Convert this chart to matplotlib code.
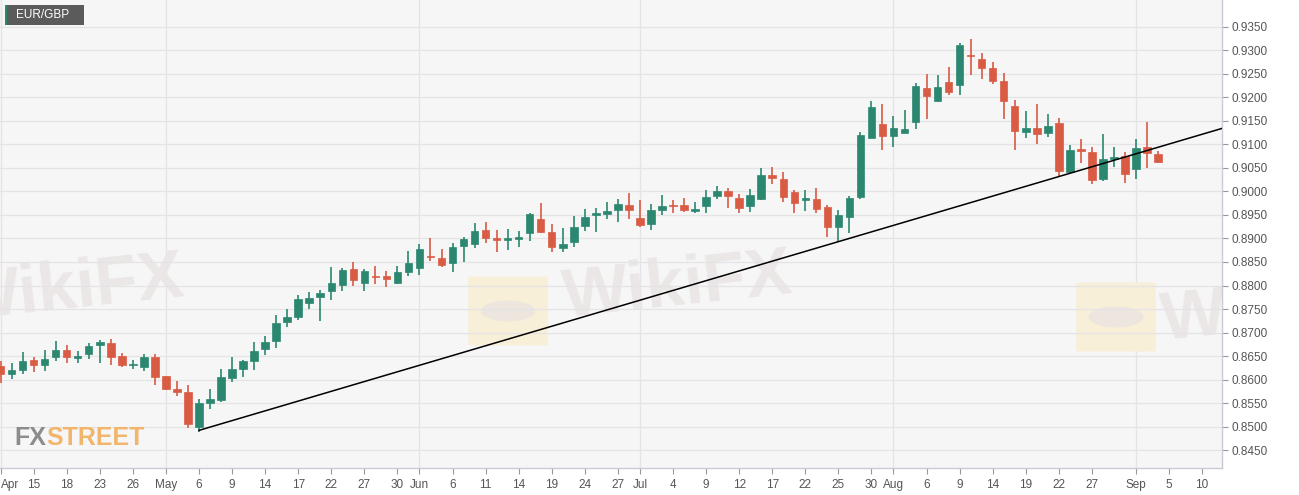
"""EUR/GBP daily candlestick chart with rising trendline."""
import matplotlib
matplotlib.use("Agg")
import matplotlib.pyplot as plt
from matplotlib.patches import Rectangle, FancyBboxPatch, Circle

plt.rcParams["font.family"] = ["Liberation Sans", "DejaVu Sans"]

# trading days from 2019-04-10 to 2019-09-04
dates = [
    "04-10", "04-11", "04-12", "04-15", "04-16", "04-17", "04-18", "04-19", "04-22", "04-23",
    "04-24", "04-25", "04-26", "04-29", "04-30", "05-01", "05-02", "05-03", "05-06", "05-07",
    "05-08", "05-09", "05-10", "05-13", "05-14", "05-15", "05-16", "05-17", "05-20", "05-21",
    "05-22", "05-23", "05-24", "05-27", "05-28", "05-29", "05-30", "05-31", "06-03", "06-04",
    "06-05", "06-06", "06-07", "06-10", "06-11", "06-12", "06-13", "06-14", "06-17", "06-18",
    "06-19", "06-20", "06-21", "06-24", "06-25", "06-26", "06-27", "06-28", "07-01", "07-02",
    "07-03", "07-04", "07-05", "07-08", "07-09", "07-10", "07-11", "07-12", "07-15", "07-16",
    "07-17", "07-18", "07-19", "07-22", "07-23", "07-24", "07-25", "07-26", "07-29", "07-30",
    "07-31", "08-01", "08-02", "08-05", "08-06", "08-07", "08-08", "08-09", "08-12", "08-13",
    "08-14", "08-15", "08-16", "08-19", "08-20", "08-21", "08-22", "08-23", "08-26", "08-27",
    "08-28", "08-29", "08-30", "09-02", "09-03", "09-04",
]

opens = [
    .8629, .8612, .8621, .8642, .8630, .8647, .8663, .8646, .8655, .8673,
    .8678, .8651, .8631, .8626, .8647, .8607, .8580, .8574, .8499, .8551,
    .8557, .8604, .8622, .8640, .8664, .8682, .8723, .8732, .8762, .8776,
    .8788, .8801, .8835, .8806, .8820, .8820, .8806, .8828, .8838, .8863,
    .8859, .8848, .8884, .8889, .8917, .8901, .8896, .8898, .8911, .8942,
    .8913, .8879, .8893, .8926, .8949, .8952, .8960, .8971, .8944, .8931,
    .8961, .8971, .8971, .8959, .8968, .8991, .9000, .8986, .8969, .8984,
    .9036, .9026, .8999, .8981, .8984, .8966, .8924, .8946, .8989, .9114,
    .9144, .9118, .9125, .9148, .9219, .9193, .9233, .9227, .9291, .9282,
    .9263, .9234, .9182, .9127, .9135, .9125, .9145, .9042, .9090, .9084,
    .9026, .9070, .9076, .9047, .9094, .9080,
]
highs = [
    .8639, .8635, .8658, .8649, .8662, .8681, .8673, .8660, .8678, .8685,
    .8686, .8656, .8642, .8654, .8655, .8607, .8598, .8588, .8558, .8581,
    .8623, .8649, .8642, .8680, .8693, .8737, .8749, .8779, .8786, .8791,
    .8840, .8838, .8851, .8836, .8842, .8831, .8842, .8874, .8888, .8901,
    .8878, .8891, .8904, .8932, .8934, .8917, .8921, .8916, .8954, .8975,
    .8930, .8923, .8948, .8962, .8964, .8977, .8984, .8996, .8982, .8974,
    .8993, .8982, .8986, .8977, .9004, .9012, .9007, .8995, .9006, .9050,
    .9052, .9041, .9002, .9004, .9007, .8971, .8961, .8991, .9127, .9192,
    .9185, .9161, .9173, .9231, .9250, .9248, .9265, .9316, .9325, .9294,
    .9275, .9252, .9194, .9171, .9185, .9165, .9157, .9099, .9111, .9095,
    .9123, .9095, .9084, .9111, .9148, .9087,
]
lows = [
    .8592, .8601, .8612, .8617, .8619, .8640, .8635, .8635, .8643, .8635,
    .8631, .8626, .8622, .8619, .8588, .8578, .8566, .8497, .8489, .8537,
    .8552, .8595, .8605, .8621, .8652, .8668, .8712, .8726, .8749, .8724,
    .8770, .8789, .8800, .8789, .8804, .8796, .8804, .8820, .8823, .8852,
    .8839, .8828, .8849, .8879, .8891, .8871, .8876, .8881, .8895, .8911,
    .8872, .8872, .8881, .8916, .8914, .8941, .8936, .8941, .8924, .8918,
    .8949, .8955, .8956, .8954, .8954, .8984, .8964, .8955, .8957, .8982,
    .9016, .8977, .8955, .8959, .8954, .8904, .8893, .8912, .8983, .9113,
    .9089, .9095, .9125, .9132, .9155, .9190, .9205, .9206, .9247, .9240,
    .9229, .9153, .9089, .9113, .9101, .9115, .9030, .9037, .9061, .9015,
    .9023, .9051, .9018, .9026, .9049, .9060,
]
closes = [
    .8612, .8621, .8639, .8630, .8643, .8663, .8649, .8651, .8672, .8680,
    .8648, .8631, .8634, .8647, .8605, .8580, .8573, .8506, .8550, .8559,
    .8605, .8623, .8639, .8661, .8680, .8721, .8732, .8772, .8774, .8783,
    .8806, .8833, .8811, .8831, .8818, .8814, .8828, .8847, .8877, .8861,
    .8844, .8882, .8898, .8916, .8901, .8896, .8900, .8904, .8951, .8914,
    .8882, .8888, .8924, .8946, .8955, .8959, .8973, .8960, .8929, .8961,
    .8969, .8970, .8961, .8962, .8989, .9000, .8991, .8964, .8993, .9036,
    .9029, .8989, .8975, .8986, .8963, .8924, .8950, .8986, .9121, .9180,
    .9118, .9135, .9132, .9224, .9203, .9222, .9212, .9311, .9287, .9263,
    .9234, .9193, .9129, .9135, .9122, .9140, .9043, .9089, .9087, .9024,
    .9068, .9074, .9037, .9092, .9081, .9063,
]

# x-axis ticks (trading-day index) and labels
tick_idx = [0, 3, 6, 9, 12, 15, 18, 21, 24, 27, 30, 33, 36, 38, 41, 44, 47, 50, 53, 56,
            58, 61, 64, 67, 70, 73, 76, 79, 81, 84, 87, 90, 93, 96, 99, 103, 106, 109]
tick_lbl = ["Apr", "15", "18", "23", "26", "May", "6", "9", "14", "17", "22", "27", "30",
            "Jun", "6", "11", "14", "19", "24", "27", "Jul", "4", "9", "12", "17", "22",
            "25", "30", "Aug", "6", "9", "14", "19", "22", "27", "Sep", "5", "10"]
month_idx = [0, 15, 38, 58, 81, 103]

y_ticks = [0.8450, 0.8500, 0.8550, 0.8600, 0.8650, 0.8700, 0.8750, 0.8800, 0.8850, 0.8900,
           0.8950, 0.9000, 0.9050, 0.9100, 0.9150, 0.9200, 0.9250, 0.9300, 0.9350]

# trendline from the May 6 low
trend_x = [18, 110.8]
trend_y = [0.8492, 0.9134]

GREEN = "#2b8770"
RED = "#d95b43"
W, H = 1299, 495
AX_RIGHT, AX_BOTTOM = 1222, 468

fig = plt.figure(figsize=(W / 100, H / 100), dpi=100, facecolor="white")
ax = fig.add_axes([0, 1 - AX_BOTTOM / H, AX_RIGHT / W, AX_BOTTOM / H])
ax.set_facecolor("#f6f6f7")


def px(x, y):
    """pixel (from top-left) -> figure fraction"""
    return x / W, 1 - y / H


# watermarks, drawn in pixel space behind the candles
for (lx, ly) in [(472, 278), (1080, 284)]:
    logo = FancyBboxPatch(px(lx, ly + 66), 72 / W, 66 / H, boxstyle="round,pad=0.003",
                          transform=fig.transFigure, facecolor="#f8efd8",
                          edgecolor="none", zorder=0.5)
    ax.add_patch(logo)
    eagle = Circle(px(lx + 36, ly + 33), 0.021, transform=fig.transFigure,
                   facecolor="#ece6df", edgecolor="none", zorder=0.6)
    ax.add_patch(eagle)
for (tx, ty) in [(70, 290), (678, 287), (1276, 310)]:
    ax.text(*px(tx, ty), "WikiFX", transform=fig.transFigure, fontsize=50,
            fontweight="bold", color="#ebe7e7", ha="center", va="center",
            rotation=6, rotation_mode="anchor", zorder=0.7, clip_on=True)

n = len(closes)
xs = list(range(n))
colors = [GREEN if c >= o else RED for o, c in zip(opens, closes)]
ax.vlines(xs, lows, highs, colors=colors, linewidth=1.2, zorder=3)
bottoms = [min(o, c) for o, c in zip(opens, closes)]
heights = [max(abs(c - o), 0.00008) for o, c in zip(opens, closes)]
ax.bar(xs, heights, bottom=bottoms, width=0.68, color=colors, edgecolor=colors,
       linewidth=0.5, zorder=4)

ax.plot(trend_x, trend_y, color="black", linewidth=1.1, zorder=5)

ax.set_xlim(-0.05, 110.8)
ax.set_ylim(0.8412, 0.9407)

ax.set_yticks(y_ticks)
ax.set_yticklabels([f"{v:.4f}" for v in y_ticks])
ax.yaxis.tick_right()
ax.set_xticks(tick_idx)
ax.set_xticklabels(tick_lbl)
ax.get_xticklabels()[0].set_horizontalalignment("left")
ax.tick_params(axis="both", colors="#999999", labelcolor="#555555", labelsize=8.5,
               length=4, width=0.8)
ax.tick_params(axis="y", pad=3)
ax.tick_params(axis="x", pad=4)

ax.grid(axis="y", color="#e4e4e6", linewidth=0.9, zorder=0)
for m in month_idx:
    ax.axvline(m, color="#e4e4e6", linewidth=0.9, zorder=0)

for s in ["top", "left"]:
    ax.spines[s].set_visible(False)
for s in ["right", "bottom"]:
    ax.spines[s].set_color("#c8cad4")
    ax.spines[s].set_linewidth(1)

# FXSTREET logo
logo_font = ["Liberation Sans Narrow", "Liberation Sans"]
fig.text(*px(14, 438), "FX", fontsize=18, fontweight="bold", color="#8c8c8c",
         family=logo_font, va="center", ha="left", zorder=6)
fig.text(*px(46, 438), "STREET", fontsize=18, fontweight="bold", color="#f1b56c",
         family=logo_font, va="center", ha="left", zorder=6)

# symbol tag
fig.patches.append(Rectangle(px(5, 25), 79 / W, 20 / H, transform=fig.transFigure,
                             facecolor="#5b5b5b", edgecolor="none", zorder=6))
fig.patches.append(Rectangle(px(5, 25), 2 / W, 20 / H, transform=fig.transFigure,
                             facecolor=GREEN, edgecolor="none", zorder=7))
fig.text(*px(16, 15.5), "EUR/GBP", fontsize=8.5, color="white", va="center", ha="left",
         zorder=8)

fig.savefig("out.png", dpi=100, facecolor="white")
